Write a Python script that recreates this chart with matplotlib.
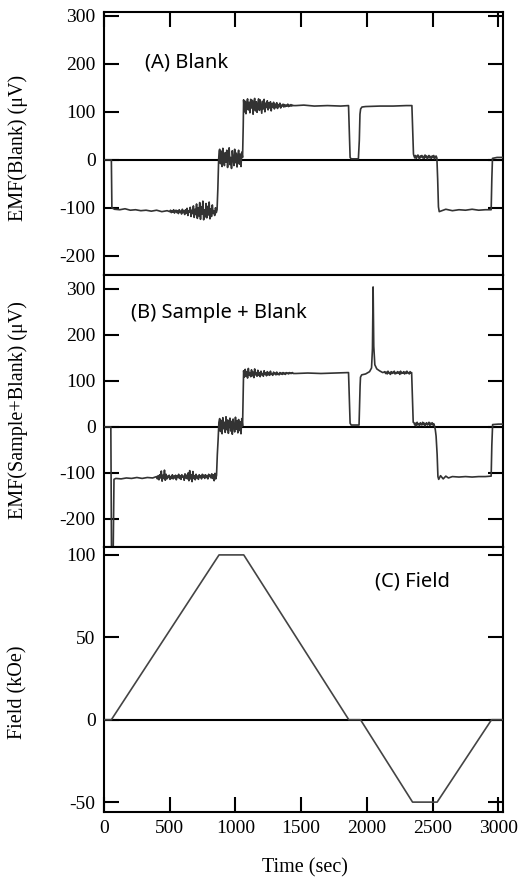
import numpy as np
import matplotlib
matplotlib.use("Agg")
import matplotlib.pyplot as plt

plt.rcParams['axes.unicode_minus'] = False

# ---- panel A: EMF(Blank) ----
a_knot1_t = [0, 56, 60, 80, 120, 160, 200, 240, 280, 320, 360, 400, 440, 480]
a_knot1_v = [0, 0, -100, -103, -104, -102, -105, -104, -106, -105, -107, -105, -108, -106]
a_noise1_t0 = 500
a_noise1_v = [-108, -105, -110, -106, -109, -104, -111, -107, -105, -110,
              -106, -112, -104, -109, -107, -113, -103, -110, -106, -114,
              -104, -111, -101, -116, -106, -109, -99, -118, -105, -112,
              -96, -120, -103, -114, -92, -122, -100, -117, -89, -124,
              -98, -113, -86, -125, -104, -119, -91, -121, -97, -115,
              -88, -123, -102, -118, -94, -112, -106, -116, -100, -110,
              -104]
a_knot2_t = [866, 872, 876]
a_knot2_v = [-60, 0, 18]
a_noise2_t0 = 880
a_noise2_v = [22, -8, 18, -14, 24, 0, -12, 15, -5, 20,
              -16, 10, 25, -10, 5, -18, 19, 2, -12, 22,
              -6, 14, -15, 8, 20, -9, 12, -14, 16, 5]
a_knot3_t = [1059]
a_knot3_v = [70]
a_noise3_t0 = 1062
a_noise3_v = [125, 100, 122, 96, 118, 127, 104, 120, 98, 126,
              108, 124, 95, 119, 128, 102, 121, 99, 116, 127,
              103, 125, 110, 97, 122, 106, 126, 100, 118, 109,
              123, 104, 119, 108, 121, 102, 117, 110, 120, 106,
              116, 109, 119, 107, 115, 111, 118, 108, 114, 112,
              116, 110, 115, 111, 114, 112, 116, 111, 114, 112,
              115, 112, 114, 113]
a_knot4_t = [1460, 1520, 1600, 1700, 1800, 1860, 1866, 1872, 1880, 1935, 1942, 1947,
             1952, 1962, 1990, 2100, 2200, 2300, 2342, 2348, 2354]
a_knot4_v = [113, 114, 112, 113, 112, 113, 60, 5, 2, 2, 40, 95,
             106, 110, 111, 112, 112, 113, 113, 60, 12]
a_noise4_t0 = 2358
a_noise4_v = [8, 4, 9, 3, 7, 10, 5, 2, 8, 6, 9, 4, 7, 3, 10,
              5, 8, 2, 6, 9, 4, 7, 3, 8, 5, 9, 2, 6, 8, 4]
a_knot5_t = [2538, 2544, 2550, 2600, 2650, 2700, 2750, 2800, 2850, 2900, 2945, 2950,
             2955, 2990, 3035]
a_knot5_v = [-40, -98, -108, -103, -106, -104, -105, -103, -105, -104, -104, -40,
             3, 5, 5]

# ---- panel B: EMF(Sample+Blank) ----
b_knot1_t = [0, 52, 58, 68, 76, 90, 130, 170, 210, 250, 290, 330, 370]
b_knot1_v = [0, 0, -320, -320, -114, -112, -113, -111, -112, -110, -112, -110, -111]
b_noise1_t0 = 400
b_noise1_v = [-108, -113, -106, -115, -104, -111, -96, -118, -105, -112,
              -94, -116, -103, -113, -107, -110, -105, -114, -108, -112,
              -104, -113, -107, -111, -105, -115, -106, -110, -103, -112,
              -106, -114, -104, -109, -107, -116, -102, -111, -105, -113,
              -100, -117, -95, -113, -104, -119, -97, -112, -106, -115,
              -103, -111, -107, -114, -104, -110, -106, -113, -103, -109,
              -105, -112, -104, -110, -106, -113, -103, -108, -105, -111,
              -102, -112, -104, -117, -101, -113, -105]
b_knot2_t = [862, 868, 874]
b_knot2_v = [-60, -28, 10]
b_noise2_t0 = 880
b_noise2_v = [18, -10, 14, -15, 20, -4, 10, -12, 22, -6,
              15, -14, 8, 19, -9, 12, -16, 17, 0, -11,
              21, -5, 13, -13, 16, -8, 11, -15, 18, 2]
b_knot3_t = [1059]
b_knot3_v = [70]
b_noise3_t0 = 1062
b_noise3_v = [122, 108, 125, 110, 120, 106, 127, 112, 118, 109,
              124, 111, 119, 107, 126, 113, 117, 110, 123, 112,
              118, 109, 121, 113, 116, 110, 122, 114, 117, 111,
              120, 113, 118, 112, 121, 114, 116, 112, 119, 115,
              117, 113, 119, 114, 116, 113, 118, 115, 117, 114,
              118, 115, 117, 114, 118, 116, 117, 115, 118, 116,
              117, 116, 118, 116]
b_knot4_t = [1460, 1550, 1650, 1750, 1860, 1866, 1872, 1880, 1940, 1945, 1948, 1951,
             1960, 1990, 2020, 2035, 2042, 2047, 2052, 2060, 2075, 2095, 2120, 2130]
b_knot4_v = [116, 117, 116, 117, 118, 60, 8, 4, 4, 60, 89, 108,
             113, 115, 120, 128, 170, 304, 175, 135, 126, 122, 118, 119]
b_noise4_t0 = 2136
b_noise4_v = [120, 116, 119, 115, 121, 117, 118, 114, 120, 116,
              119, 117, 121, 115, 118, 116, 120, 117, 119, 114,
              121, 116, 118, 117, 120, 115, 119, 116, 121, 117,
              118, 115, 120, 117, 118]
b_knot5_t = [2346, 2352]
b_knot5_v = [60, 10]
b_noise5_t0 = 2358
b_noise5_v = [9, 4, 8, 2, 10, 5, 7, 3, 9, 6, 4, 10, 5, 8, 2,
              7, 9, 4, 6, 10, 3, 8, 5, 9, 4, 7, 2, -6, -20]
b_knot6_t = [2534, 2540, 2546, 2560, 2580, 2600, 2620, 2650, 2700, 2750, 2800, 2850,
             2900, 2945, 2950, 2956, 3000, 3035]
b_knot6_v = [-60, -108, -114, -106, -113, -107, -111, -108, -109, -108, -109, -108,
             -108, -107, -40, 5, 6, 6]

# ---- panel C: Field ----
c_t = [0, 56, 875, 1063, 1862, 1951, 2347, 2534, 2948, 3035]
c_v = [0, 0, 100, 100, 0, 0, -50, -50, 0, 0]

x_ticks = [0, 500, 1000, 1500, 2000, 2500, 3000]
a_ticks = [-200, -100, 0, 100, 200, 300]
b_ticks = [-200, -100, 0, 100, 200, 300]
c_ticks = [-50, 0, 50, 100]


def build(pieces, step=6):
    ts, vs = [], []
    for p in pieces:
        if len(p) == 2 and np.isscalar(p[0]):
            t0, vals = p
            ts.extend(t0 + step * np.arange(len(vals)))
            vs.extend(vals)
        else:
            ts.extend(p[0])
            vs.extend(p[1])
    return np.array(ts, float), np.array(vs, float)


a_t, a_v = build([(a_knot1_t, a_knot1_v), (a_noise1_t0, a_noise1_v),
                  (a_knot2_t, a_knot2_v), (a_noise2_t0, a_noise2_v),
                  (a_knot3_t, a_knot3_v), (a_noise3_t0, a_noise3_v),
                  (a_knot4_t, a_knot4_v), (a_noise4_t0, a_noise4_v),
                  (a_knot5_t, a_knot5_v)])
b_t, b_v = build([(b_knot1_t, b_knot1_v), (b_noise1_t0, b_noise1_v),
                  (b_knot2_t, b_knot2_v), (b_noise2_t0, b_noise2_v),
                  (b_knot3_t, b_knot3_v), (b_noise3_t0, b_noise3_v),
                  (b_knot4_t, b_knot4_v), (b_noise4_t0, b_noise4_v),
                  (b_knot5_t, b_knot5_v), (b_noise5_t0, b_noise5_v),
                  (b_knot6_t, b_knot6_v)])

W, H = 527, 885
fig = plt.figure(figsize=(W / 100, H / 100), dpi=100)

left, right = 104 / W, 503 / W


def box(top, bot):
    return [left, 1 - bot / H, right - left, (bot - top) / H]


serif = 'Liberation Serif'
sans = 'Noto Sans'
trace_col = '#333333'

axA = fig.add_axes(box(12, 275))
axB = fig.add_axes(box(275, 547))
axC = fig.add_axes(box(547, 812))

axA.plot(a_t, a_v, color=trace_col, lw=1.2, zorder=3)
axB.plot(b_t, b_v, color=trace_col, lw=1.2, zorder=3)
axC.plot(c_t, c_v, color='#444444', lw=1.2, zorder=3)

for ax, yl, yt in [(axA, (-240, 308), a_ticks), (axB, (-261, 330), b_ticks),
                   (axC, (-56, 104.8), c_ticks)]:
    ax.axhline(0, color='black', lw=1.5, zorder=2)
    ax.set_xlim(0, 3035)
    ax.set_ylim(*yl)
    ax.set_yticks(yt)
    ax.set_xticks(x_ticks)
    for s in ax.spines.values():
        s.set_linewidth(1.5)
    ax.tick_params(axis='y', direction='in', length=11, width=1.5, left=True, right=True,
                   labelsize=14, pad=6)
    ax.tick_params(axis='x', direction='in', length=11, width=1.5, top=False, bottom=False,
                   labelbottom=False, labelsize=14, pad=6)
    for lab in ax.get_yticklabels():
        lab.set_fontfamily(serif)

axA.tick_params(axis='x', top=True)
axC.tick_params(axis='x', bottom=True, labelbottom=True)
for lab in axC.get_xticklabels():
    lab.set_fontfamily(serif)

axA.text(310, 202, '(A) Blank', family=sans, fontsize=14.5, va='center', ha='left')
axB.text(208, 247, '(B) Sample + Blank', family=sans, fontsize=14.5, va='center', ha='left')
axC.text(2060, 84, '(C) Field', family=sans, fontsize=14.5, va='center', ha='left')

fig.text(18 / W, 1 - 148 / H, 'EMF(Blank) (\u03bcV)', rotation=90, family=serif,
         fontsize=14.5, ha='center', va='center')
fig.text(18 / W, 1 - 410 / H, 'EMF(Sample+Blank) (\u03bcV)', rotation=90, family=serif,
         fontsize=14.5, ha='center', va='center')
fig.text(18 / W, 1 - 692 / H, 'Field (kOe)', rotation=90, family=serif,
         fontsize=14.5, ha='center', va='center')
fig.text(305 / W, 1 - 868 / H, 'Time (sec)', family=serif, fontsize=14.5,
         ha='center', va='center')

fig.savefig('out.png', dpi=100)
